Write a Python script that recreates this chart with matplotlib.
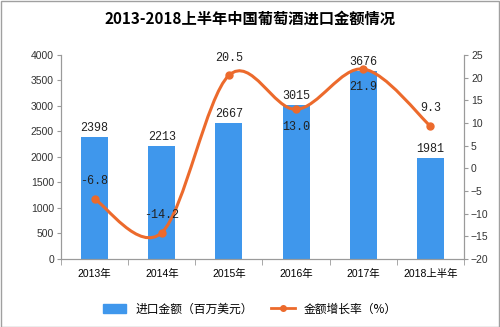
import matplotlib
matplotlib.use('Agg')
import matplotlib.pyplot as plt
from matplotlib.path import Path
from matplotlib.patches import PathPatch, Rectangle
from matplotlib.lines import Line2D
import numpy as np

plt.rcParams['font.family'] = ['Liberation Sans', 'Noto Sans CJK SC', 'DejaVu Sans']

# import value of wine, million USD, and its year-on-year growth (%)
years = ['2013年', '2014年', '2015年', '2016年', '2017年', '2018上半年']
amount = [2398, 2213, 2667, 3015, 3676, 1981]
growth = [-6.8, -14.2, 20.5, 13.0, 21.9, 9.3]
growth_labels = ['-6.8', '-14.2', '20.5', '13.0', '21.9', '9.3']

bar_color = '#3f97ec'
line_color = '#ec6a2c'
axis_grey = '#9a9a9a'
mono = ['Liberation Mono', 'Noto Sans CJK SC']

fig = plt.figure(figsize=(5.0, 3.27), dpi=100)
ax = fig.add_axes([0.122, 0.208, 0.806, 0.624])
ax2 = ax.twinx()

x = np.arange(len(years))
ax.bar(x, amount, width=0.4, color=bar_color, zorder=2)
ax.set_xlim(-0.5, len(years) - 0.5)
ax.set_ylim(0, 4000)
ax.set_yticks(np.arange(0, 4001, 500))
ax2.set_ylim(-20, 25)
ax2.set_yticks(np.arange(-20, 26, 5))

for xi, v in zip(x, amount):
    ax.text(xi, v + 60, str(v), ha='center', va='bottom', fontsize=8.5,
            family=mono, color='#222222')

# smoothed growth line: cubic Bezier segments through the points
pts = list(zip(x.astype(float), growth))
verts = [pts[0]]
codes = [Path.MOVETO]
n = len(pts)
for i in range(n - 1):
    p0 = np.array(pts[max(i - 1, 0)])
    p1 = np.array(pts[i])
    p2 = np.array(pts[i + 1])
    p3 = np.array(pts[min(i + 2, n - 1)])
    c1 = p1 + (p2 - p0) / 6.0
    c2 = p2 - (p3 - p1) / 6.0
    verts += [tuple(c1), tuple(c2), tuple(p2)]
    codes += [Path.CURVE4] * 3
ax2.add_patch(PathPatch(Path(verts, codes), facecolor='none',
                        edgecolor=line_color, lw=2.2, zorder=3))
ax2.plot(x, growth, 'o', color=line_color, markersize=5, zorder=4)

offsets = [1, 1, 1, -1, -1, 1]
for xi, g, lab, o in zip(x, growth, growth_labels, offsets):
    ax2.text(xi, g + o * 2.6, lab, ha='center',
             va='bottom' if o > 0 else 'top', fontsize=8.5, family=mono,
             color='#222222')

# axes styling
ax.set_xticks(x)
ax.set_xticklabels(years, fontsize=7.5)
ax.set_xticks(np.arange(-0.5, len(years), 1), minor=True)
ax.tick_params(axis='x', which='major', length=0, pad=7)
ax.tick_params(axis='x', which='minor', length=4, color=axis_grey)
ax.tick_params(axis='y', length=3, color=axis_grey, labelsize=7.5, pad=2)
ax2.tick_params(axis='y', length=3, color=axis_grey, labelsize=7.5, pad=2)
for a in (ax, ax2):
    a.spines['top'].set_visible(False)
    for s in ('left', 'right', 'bottom'):
        a.spines[s].set_color(axis_grey)
        a.spines[s].set_linewidth(0.8)
    for t in a.get_yticklabels():
        t.set_color('#333333')

fig.text(0.5, 0.942, '2013-2018上半年中国葡萄酒进口金额情况', ha='center',
         va='center', fontsize=11, fontweight='bold',
         family=['Noto Sans CJK SC'])

handles = [Rectangle((0, 0), 1, 1, color=bar_color),
           Line2D([], [], color=line_color, lw=2, marker='o', markersize=4)]
fig.legend(handles, ['进口金额（百万美元）', '金额增长率（%）'],
           loc='center', bbox_to_anchor=(0.5, 0.055), ncol=2, frameon=False,
           fontsize=8.5, handlelength=2.0, handleheight=0.7,
           columnspacing=1.5, prop={'family': ['Noto Sans CJK SC'], 'size': 8.5})

# thin grey frame around the whole image
fig.patches.append(Rectangle((0.001, 0.001), 0.997, 0.996, transform=fig.transFigure,
                             fill=False, edgecolor='#a0a0a0', lw=1))

fig.savefig('out.png', dpi=100)
